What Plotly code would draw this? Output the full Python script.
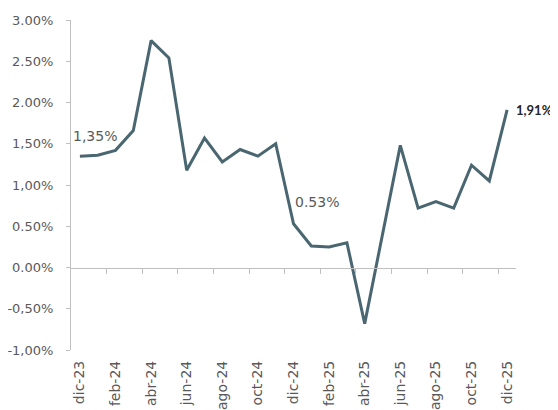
import plotly.graph_objects as go

categories = ["dic-23", "ene-24", "feb-24", "mar-24", "abr-24", "may-24", "jun-24",
              "jul-24", "ago-24", "sep-24", "oct-24", "nov-24", "dic-24", "ene-25",
              "feb-25", "mar-25", "abr-25", "may-25", "jun-25", "jul-25", "ago-25",
              "sep-25", "oct-25", "nov-25", "dic-25"]
values = [1.35, 1.36, 1.42, 1.66, 2.75, 2.54, 1.18, 1.57, 1.28, 1.43, 1.35, 1.50,
          0.53, 0.26, 0.25, 0.30, -0.68, 0.40, 1.48, 0.72, 0.80, 0.72, 1.24, 1.05, 1.91]

y_tickvals = [-1.0, -0.5, 0.0, 0.5, 1.0, 1.5, 2.0, 2.5, 3.0]
y_ticktext = ["-1,00%", "-0,50%", "0.00%", "0.50%", "1,00%", "1,50%", "2.00%", "2.50%", "3.00%"]

label_idx = [0, 12, 24]
label_text = ["1,35%", "0.53%", "1,91%"]

x = list(range(len(categories)))
LINE = "#4a6670"
GRAY = "#595959"
AXIS = "#bfbfbf"

fig = go.Figure()
fig.add_trace(go.Scatter(x=x, y=values, mode="lines",
                         line=dict(color=LINE, width=3), hoverinfo="skip",
                         showlegend=False))
# invisible trace for the zero-line axis
fig.add_trace(go.Scatter(x=[x[0]], y=[0], xaxis="x2", mode="markers",
                         marker=dict(opacity=0), showlegend=False, hoverinfo="skip"))

# page body has an 8px margin, so the figure is 8px smaller than the window
fig.update_layout(
    width=550, height=402,
    margin=dict(l=63, r=42, t=12, b=60, autoexpand=False),
    paper_bgcolor="white", plot_bgcolor="white",
    font=dict(family="DejaVu Sans", color=GRAY),
    xaxis=dict(range=[-0.5, 24.5], tickvals=x[::2], ticktext=categories[::2],
               tickangle=-90, ticks="", showline=False, showgrid=False,
               zeroline=False, tickfont=dict(size=14, color=GRAY),
               ticklabelstandoff=7, automargin=False),
    xaxis2=dict(range=[-0.5, 24.5], overlaying="x", anchor="free", position=0.25,
                showline=True, linecolor=AXIS, linewidth=1, ticks="outside",
                ticklen=5, tickcolor=AXIS,
                tickvals=[i + 0.5 for i in range(1, 24, 2)],
                showticklabels=False, showgrid=False, zeroline=False,
                automargin=False),
    yaxis=dict(range=[-1, 3], tickvals=y_tickvals, ticktext=y_ticktext,
               showline=True, linecolor=AXIS, linewidth=1, ticks="outside",
               ticklen=4, tickcolor=AXIS, showgrid=False, zeroline=False,
               tickfont=dict(size=13, color=GRAY), ticklabelstandoff=10,
               automargin=False),
)

shifts = [(-9, 10, "left", "bottom", False, 14, GRAY, "DejaVu Sans"),
          (-1, 12, "left", "bottom", False, 14, GRAY, "DejaVu Sans"),
          (7, 0, "left", "middle", True, 13, "#262626", "Lato")]
for i, t, (xs, ys, xa, ya, bold, sz, col, fam) in zip(label_idx, label_text, shifts):
    fig.add_annotation(x=x[i], y=values[i], text=f"<b>{t}</b>" if bold else t,
                       showarrow=False, xanchor=xa, yanchor=ya, xshift=xs, yshift=ys,
                       font=dict(size=sz, color=col, family=fam))

fig.write_html("out.html")
